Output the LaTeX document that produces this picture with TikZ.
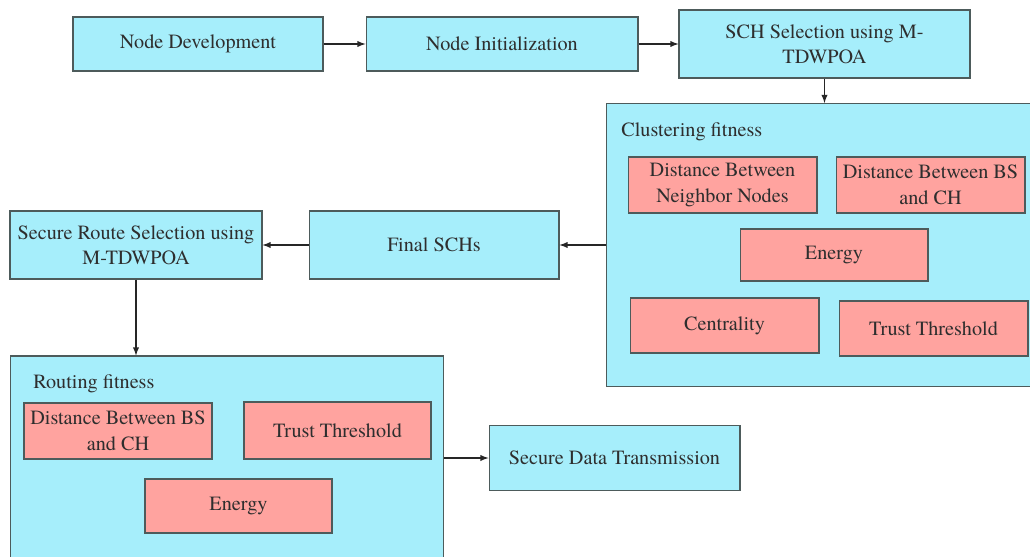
\documentclass[tikz,border=0pt]{standalone}
\usepackage{xcolor}
\usepackage{fontspec}
\setmainfont{TeX Gyre Termes}
\usetikzlibrary{arrows,positioning}

\definecolor{boxblue}{HTML}{A6EEFB}
\definecolor{boxpink}{HTML}{FFA39F}
\definecolor{edgegray}{HTML}{4D5B5B}
\definecolor{txtgray}{HTML}{2E2E2E}

\tikzset{
    bluebox/.style={draw=edgegray, fill=boxblue, line width=0.6pt, align=center, inner sep=1pt, text=txtgray,
        font=\fontsize{11.5}{14.5}\selectfont},
    pinkbox/.style={bluebox, fill=boxpink},
    fittitle/.style={anchor=west, inner sep=0pt, text=txtgray, font=\fontsize{11.5}{14.5}\selectfont},
    flow/.style={->, >=latex, line width=0.6pt, draw=black!85}
}

\begin{document}
\begin{tikzpicture}[x=0.02cm, y=-0.02cm]
        \useasboundingbox (0,0) rectangle (1030,557);
        % top row
        \node[bluebox, minimum width=5cm, minimum height=1.08cm] (dev) at (198,44) {Node Development};
        \node[bluebox, minimum width=5.44cm, minimum height=1.08cm, right=0.84cm of dev] (init) {Node Initialization};
        \draw[flow] (dev.east) -- (init.west);
        \node[bluebox, minimum width=5.82cm, minimum height=1.36cm, right=0.8cm of init] (sch) {SCH Selection using M-\\TDWPOA};
        \draw[flow] (init.east) -- (sch.west);

        % clustering fitness block
        \node[bluebox, minimum width=8.5cm, minimum height=5.66cm] (clustfit) at (818.5,245) {};
        \node[fittitle] (clusttitle) at (621,132) {Clustering fitness};
        \node[pinkbox, minimum width=3.78cm, minimum height=1.12cm] (neighdist) at (722.5,185) {Distance Between\\Neighbor Nodes};
        \node[pinkbox, minimum width=3.78cm, minimum height=1.12cm] (bsdistA) at (930.5,185) {Distance Between BS\\and CH};
        \node[pinkbox, minimum width=3.76cm, minimum height=1.04cm] (energyA) at (834,255) {Energy};
        \node[pinkbox, minimum width=3.78cm, minimum height=1.1cm] (central) at (724.5,325.5) {Centrality};
        \node[pinkbox, minimum width=3.78cm, minimum height=1.1cm] (trustA) at (933.5,328.5) {Trust Threshold};
        \draw[flow] (sch.south) -- (sch.south |- clustfit.north);

        % middle row
        \node[bluebox, minimum width=5cm, minimum height=1.36cm] (final) at (434,245) {Final SCHs};
        \draw[flow] (clustfit.west) -- (final.east);
        \node[bluebox, minimum width=5.04cm, minimum height=1.36cm] (route) at (136,245) {Secure Route Selection using\\M-TDWPOA};
        \draw[flow] (final.west) -- (route.east);

        % routing fitness block
        \node[bluebox, minimum width=8.68cm, minimum height=4.08cm] (routfit) at (227,458) {};
        \node[fittitle] (routtitle) at (33,384) {Routing fitness};
        \node[pinkbox, minimum width=3.76cm, minimum height=1.12cm] (bsdistB) at (118,431) {Distance Between BS\\and CH};
        \node[pinkbox, minimum width=3.74cm, minimum height=1.14cm] (trustB) at (337.5,430.5) {Trust Threshold};
        \node[pinkbox, minimum width=3.74cm, minimum height=1.08cm] (energyB) at (238.5,506) {Energy};
        \draw[flow] (route.south) -- (route.south |- routfit.north);

        \node[bluebox, minimum width=5.02cm, minimum height=1.3cm] (transmit) at (614.5,458) {Secure Data Transmission};
        \draw[flow] (routfit.east) -- (transmit.west);
    \end{tikzpicture}
\end{document}
